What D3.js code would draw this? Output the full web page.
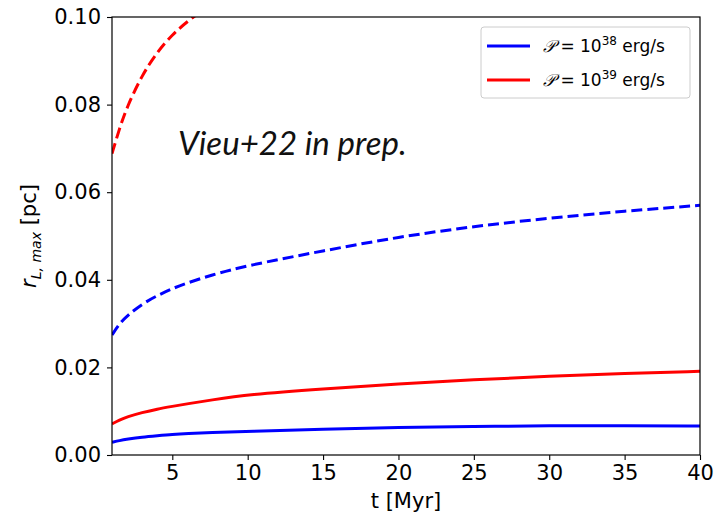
<!DOCTYPE html>
<html>
  <head>
    <meta http-equiv="Content-Type" content="text/html;charset=utf-8"/>
    <script src="https://cdn.jsdelivr.net/npm/d3@7"></script>
    <style>
      body { margin: 0; background: #fff; }
      text { font-family: "DejaVu Sans", sans-serif; }
    </style>
  </head>
  <body>
    <script type="text/javascript">

var tFine = [1, 1.5, 2, 3, 4, 5, 6, 7, 8];
var tMain = [1, 1.5, 2, 3, 4, 5, 6, 7.5, 10, 15, 20, 25, 30, 35, 40];

// r_L,max [pc]
var blueSolid  = [0.0029, 0.0033, 0.0036, 0.0041, 0.0044, 0.0047, 0.0049, 0.0051, 0.0054, 0.0059, 0.0063, 0.0065, 0.0067, 0.0067, 0.0066];
var redSolid   = [0.0071, 0.0080, 0.0087, 0.0097, 0.0105, 0.0111, 0.0117, 0.0125, 0.0138, 0.0151, 0.0162, 0.0172, 0.0180, 0.0186, 0.0191];
var blueDashed = [0.0274, 0.0300, 0.0318, 0.0345, 0.0364, 0.0380, 0.0393, 0.0410, 0.0433, 0.0466, 0.0498, 0.0522, 0.0541, 0.0557, 0.0570];
var redDashed  = [0.0688, 0.0746, 0.0795, 0.0868, 0.0920, 0.0960, 0.0990, 0.1015, 0.1043];

var xTicks = [5, 10, 15, 20, 25, 30, 35, 40];
var yTicks = [0, 0.02, 0.04, 0.06, 0.08, 0.10];
var legendItems = [
  { color: "blue", exp: "38" },
  { color: "red",  exp: "39" }
];

var W = 716, H = 516;
var m = { left: 112, top: 17, right: 16, bottom: 61 };
var pw = W - m.left - m.right, ph = H - m.top - m.bottom;

var svg = d3.select("body").append("svg")
  .attr("width", W)
  .attr("height", H);

var x = d3.scaleLinear().domain([1, 40]).range([0, pw]);
var y = d3.scaleLinear().domain([0, 0.10]).range([ph, 0]);

svg.append("defs").append("clipPath").attr("id", "clip")
  .append("rect").attr("width", pw).attr("height", ph);

var g = svg.append("g").attr("transform", "translate(" + m.left + "," + m.top + ")");

var line = d3.line()
  .x(function(d) { return x(d[0]); })
  .y(function(d) { return y(d[1]); })
  .curve(d3.curveBasis);

var series = [
  { t: tMain, v: blueSolid,  color: "blue", dash: null },
  { t: tMain, v: redSolid,   color: "red",  dash: null },
  { t: tMain, v: blueDashed, color: "blue", dash: "11,5" },
  { t: tFine, v: redDashed,  color: "red",  dash: "11,5" }
];

var plot = g.append("g").attr("clip-path", "url(#clip)");
series.forEach(function(s) {
  plot.append("path")
    .datum(d3.zip(s.t, s.v))
    .attr("fill", "none")
    .attr("stroke", s.color)
    .attr("stroke-width", 3)
    .attr("stroke-dasharray", s.dash)
    .attr("d", line);
});

// axes
var xAxis = g.append("g")
  .attr("transform", "translate(0," + ph + ")")
  .call(d3.axisBottom(x).tickValues(xTicks).tickSize(5).tickPadding(5));
var yAxis = g.append("g")
  .call(d3.axisLeft(y).tickValues(yTicks).tickSize(5).tickPadding(6).tickFormat(d3.format(".2f")));
[xAxis, yAxis].forEach(function(a) {
  a.select(".domain").remove();
  a.selectAll("line").attr("stroke", "#000").attr("stroke-width", 1.1);
  a.selectAll("text").attr("fill", "#000").style("font-size", "21px").style("font-family", "DejaVu Sans");
});

g.append("rect")
  .attr("width", pw).attr("height", ph)
  .attr("fill", "none").attr("stroke", "#000").attr("stroke-width", 1.2);

// axis labels
svg.append("text")
  .attr("x", m.left + pw / 2).attr("y", 508)
  .attr("text-anchor", "middle")
  .style("font-size", "21px")
  .text("t [Myr]");

var yl = svg.append("text")
  .attr("transform", "translate(36," + (m.top + ph / 2) + ") rotate(-90)")
  .attr("text-anchor", "middle")
  .style("font-size", "21px");
yl.append("tspan").style("font-style", "italic").text("r");
yl.append("tspan").attr("dy", 5).style("font-size", "14px").style("font-style", "italic").text("L, max");
yl.append("tspan").attr("dy", -5).text(" [pc]");

// annotation
svg.append("text")
  .attr("x", 178).attr("y", 155)
  .style("font-family", "Lato")
  .style("font-style", "italic")
  .style("font-size", "33px")
  .attr("fill", "#111")
  .text("Vieu+22 in prep.");

// legend
var lg = svg.append("g").attr("transform", "translate(481,27)");
lg.append("rect")
  .attr("width", 209).attr("height", 71).attr("rx", 3)
  .attr("fill", "#fff").attr("stroke", "#ccc").attr("stroke-width", 1);
legendItems.forEach(function(d, i) {
  var row = lg.append("g").attr("transform", "translate(0," + (19 + i * 34) + ")");
  row.append("line")
    .attr("x1", 6).attr("x2", 49)
    .attr("stroke", d.color).attr("stroke-width", 3);
  var t = row.append("text").attr("x", 62).attr("y", 6).style("font-size", "17px");
  t.append("tspan").style("font-family", "DejaVu Serif").style("font-style", "italic").text("\uD835\uDCAB");
  t.append("tspan").text(" = 10");
  t.append("tspan").attr("dy", -7).style("font-size", "12px").text(d.exp);
  t.append("tspan").attr("dy", 7).text(" erg/s");
});

    </script>
  </body>
</html>
